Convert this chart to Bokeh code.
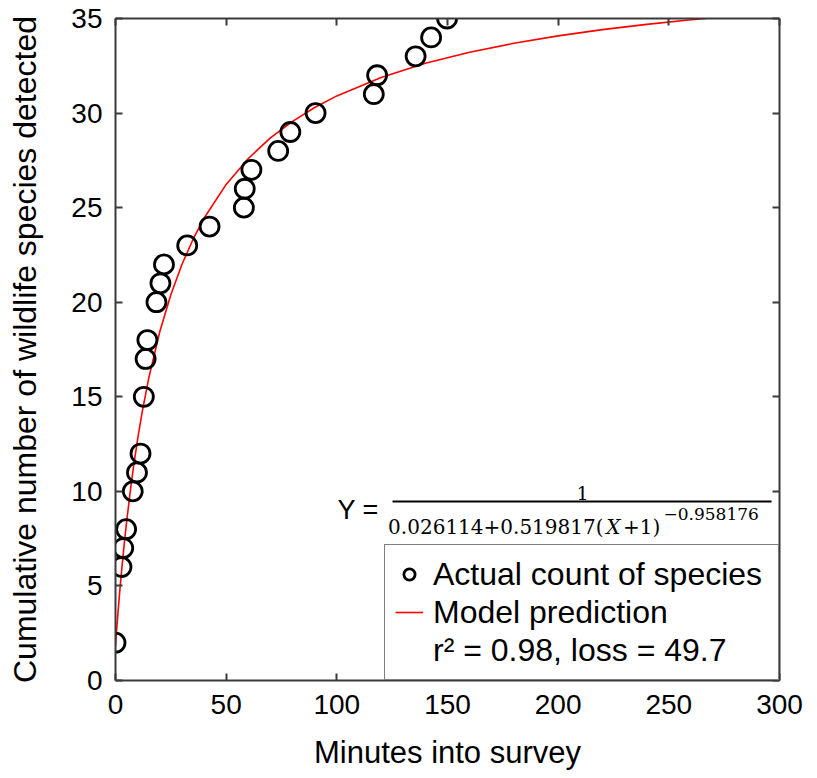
from bokeh.plotting import figure
from bokeh.models import (Range1d, LinearAxis, FixedTicker, Legend, LegendItem, Label)
from bokeh.embed import file_html
from bokeh.resources import INLINE

# ---- data ----
minutes = [0, 2.7, 3.5, 4.8, 7.8, 9.7, 11.3, 12.8, 13.6, 14.4, 18.5, 20.3, 21.9,
           32.4, 42.5, 58.0, 58.4, 61.4, 73.5, 79.0, 90.4, 116.7, 118.2, 135.6, 142.6, 149.8]
species = [2, 6, 7, 8, 10, 11, 12, 15, 17, 18, 20, 21, 22,
           23, 24, 25, 26, 27, 28, 29, 30, 31, 32, 33, 34, 35]

model_x = [0, 0.5, 1, 2, 3, 4, 5, 7, 8, 10, 12, 15, 20, 25, 30, 35, 40, 50, 60, 70, 80,
           90, 100, 120, 140, 160, 180, 200, 220, 240, 260, 267]
model_y = [1.832, 2.641, 3.405, 4.818, 6.104, 7.282, 8.369, 10.309, 11.182, 12.762, 14.158,
           15.973, 18.441, 20.399, 21.992, 23.316, 24.437, 26.228, 27.599, 28.685, 29.564,
           30.293, 30.907, 31.885, 32.629, 33.215, 33.689, 34.081, 34.410, 34.690, 34.932, 35.008]

x_ticks = [0, 50, 100, 150, 200, 250, 300]
y_ticks = [0, 5, 10, 15, 20, 25, 30, 35]

series_labels = ["Actual count of species", "Model prediction", "r\u00b2 = 0.98, loss = 49.7"]
x_title = "Minutes into survey"
y_title = "Cumulative number of wildlife species detected"

SANS = "Liberation Sans"
SERIF = "DejaVu Serif"
AXC = "#3a3a3a"

p = figure(frame_width=664, frame_height=662,
           min_border_left=115, min_border_right=30, min_border_top=18, min_border_bottom=98,
           x_range=Range1d(0, 300), y_range=Range1d(0, 35),
           output_backend="svg", toolbar_location=None,
           x_axis_label=x_title, y_axis_label=y_title)
p.grid.visible = False
p.outline_line_color = None
p.background_fill_color = "white"
p.border_fill_color = "white"

def style_axis(ax, ticks, show_labels):
    ax.ticker = FixedTicker(ticks=ticks)
    ax.axis_line_color = AXC
    ax.axis_line_width = 2
    ax.major_tick_line_color = AXC
    ax.major_tick_line_width = 2
    ax.major_tick_in = 7
    ax.major_tick_out = 0
    ax.minor_tick_line_color = None
    ax.major_label_text_font = SANS
    if show_labels:
        ax.major_label_text_font_size = "28px"
        ax.major_label_text_color = "black"
    else:
        ax.major_label_text_color = None
        ax.major_label_text_font_size = "1px"
        ax.major_label_standoff = 0

xa = p.xaxis[0]
ya = p.yaxis[0]
style_axis(xa, x_ticks, True)
style_axis(ya, y_ticks, True)
xa.major_label_standoff = 14
ya.major_label_standoff = 13
for ax, fs, st in ((xa, "31px", 18), (ya, "32px", 25)):
    ax.axis_label_text_font = SANS
    ax.axis_label_text_font_size = fs
    ax.axis_label_text_font_style = "normal"
    ax.axis_label_text_color = "black"
    ax.axis_label_standoff = st

top_ax = LinearAxis()
style_axis(top_ax, x_ticks, False)
p.add_layout(top_ax, "above")
right_ax = LinearAxis()
style_axis(right_ax, y_ticks, False)
p.add_layout(right_ax, "right")

r_model = p.line(model_x, model_y, line_color="#ff0000", line_width=1.6)
r_pts = p.scatter(minutes, species, marker="circle", size=19, fill_color=None,
                  line_color="black", line_width=2.8)
r_dummy = p.line(x=[], y=[], line_alpha=0)

legend = Legend(items=[LegendItem(label=series_labels[0], renderers=[r_pts]),
                       LegendItem(label=series_labels[1], renderers=[r_model]),
                       LegendItem(label=series_labels[2], renderers=[r_dummy])],
                location="bottom_right", margin=0,
                border_line_color="black", border_line_width=1.5,
                background_fill_color="white", background_fill_alpha=1,
                label_text_font=SANS, label_text_font_size="32px",
                label_text_color="black",
                glyph_width=28, glyph_height=34, label_height=38, label_width=335,
                label_standoff=10, padding=10, spacing=0)
p.add_layout(legend)

# ---- model equation (positions given in data units of the frame) ----
TXT = dict(text_color="black", text_baseline="alphabetic")
p.add_layout(Label(x=100.3, y=9.02, text="Y =", text_font=SANS, text_font_size="27px",
                   text_align="left", **TXT))
p.segment(x0=[125.15], y0=[9.46], x1=[296.4], y1=[9.46], line_color="black", line_width=2)
p.add_layout(Label(x=211.0, y=9.90, text="1", text_font=SERIF, text_font_size="19px",
                   text_align="center", **TXT))
p.add_layout(Label(x=220.5, y=8.09, text="0.026114+0.519817(", text_font=SERIF,
                   text_font_size="20px", text_align="right", **TXT))
p.add_layout(Label(x=224.9, y=8.09, text="X", text_font=SERIF, text_font_style="italic",
                   text_font_size="20px", text_align="center", **TXT))
p.add_layout(Label(x=229.3, y=8.09, text="+1)", text_font=SERIF,
                   text_font_size="20px", text_align="left", **TXT))
p.add_layout(Label(x=247.6, y=8.80, text="\u22120.958176", text_font=SERIF,
                   text_font_size="17px", text_align="left", **TXT))

open("out.html", "w").write(file_html(p, INLINE))
